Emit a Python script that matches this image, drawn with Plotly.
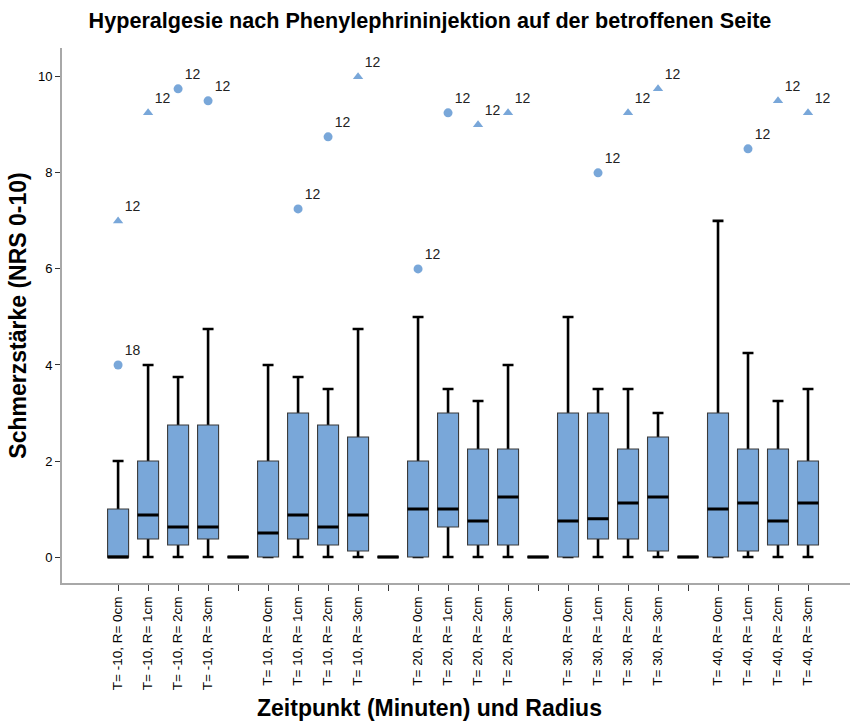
import plotly.graph_objects as go

# ---- data ----
categories = [
    "T= -10, R= 0cm", "T= -10, R= 1cm", "T= -10, R= 2cm", "T= -10, R= 3cm", "",
    "T= 10, R= 0cm", "T= 10, R= 1cm", "T= 10, R= 2cm", "T= 10, R= 3cm", " ",
    "T= 20, R= 0cm", "T= 20, R= 1cm", "T= 20, R= 2cm", "T= 20, R= 3cm", "  ",
    "T= 30, R= 0cm", "T= 30, R= 1cm", "T= 30, R= 2cm", "T= 30, R= 3cm", "   ",
    "T= 40, R= 0cm", "T= 40, R= 1cm", "T= 40, R= 2cm", "T= 40, R= 3cm",
]
lower_fence = [0, 0, 0, 0, 0,  0, 0, 0, 0, 0,  0, 0, 0, 0, 0,  0, 0, 0, 0, 0,  0, 0, 0, 0]
q1 = [0, 0.375, 0.25, 0.375, 0,  0, 0.375, 0.25, 0.125, 0,  0, 0.625, 0.25, 0.25, 0,
      0, 0.375, 0.375, 0.125, 0,  0, 0.125, 0.25, 0.25]
median = [0, 0.875, 0.625, 0.625, 0,  0.5, 0.875, 0.625, 0.875, 0,  1.0, 1.0, 0.75, 1.25, 0,
          0.75, 0.8, 1.125, 1.25, 0,  1.0, 1.125, 0.75, 1.125]
q3 = [1.0, 2.0, 2.75, 2.75, 0,  2.0, 3.0, 2.75, 2.5, 0,  2.0, 3.0, 2.25, 2.25, 0,
      3.0, 3.0, 2.25, 2.5, 0,  3.0, 2.25, 2.25, 2.0]
upper_fence = [2.0, 4.0, 3.75, 4.75, 0,  4.0, 3.75, 3.5, 4.75, 0,  5.0, 3.5, 3.25, 4.0, 0,
               5.0, 3.5, 3.5, 3.0, 0,  7.0, 4.25, 3.25, 3.5]

# outliers: category index, value, symbol, case label
out_cat = [0, 0, 1, 2, 3, 6, 7, 8, 10, 11, 12, 13, 16, 17, 18, 21, 22, 23]
out_val = [7.0, 4.0, 9.25, 9.75, 9.5, 7.25, 8.75, 10.0, 6.0, 9.25, 9.0, 9.25, 8.0, 9.25, 9.75, 8.5, 9.5, 9.25]
out_sym = ["triangle-up", "circle", "triangle-up", "circle", "circle", "circle", "circle", "triangle-up",
           "circle", "circle", "triangle-up", "triangle-up", "circle", "triangle-up", "triangle-up",
           "circle", "triangle-up", "triangle-up"]
out_lab = ["12", "18", "12", "12", "12", "12", "12", "12", "12", "12", "12", "12", "12", "12", "12", "12", "12", "12"]

y_ticks = [0, 2, 4, 6, 8, 10]

# ---- figure ----
pos = list(range(len(categories)))
FILL = "#79A7D9"
BW = 0.7
FONT = "Liberation Sans, Arial"

fig = go.Figure()

# whiskers (thick black)
fig.add_trace(go.Box(
    x=pos, q1=median, median=median, q3=median,
    lowerfence=lower_fence, upperfence=upper_fence,
    width=BW, whiskerwidth=0.52,
    line=dict(color="black", width=2.6), fillcolor="rgba(0,0,0,0)",
    boxpoints=False, hoverinfo="skip", showlegend=False,
))
# box bodies (thin gray outline)
fig.add_trace(go.Box(
    x=pos, q1=q1, median=median, q3=q3,
    lowerfence=q1, upperfence=q3,
    width=BW, whiskerwidth=0,
    line=dict(color="#3a3a3a", width=1.1), fillcolor=FILL,
    boxpoints=False, showlegend=False,
))
# medians (thick black)
fig.add_trace(go.Box(
    x=pos, q1=median, median=median, q3=median,
    lowerfence=median, upperfence=median,
    width=BW, whiskerwidth=0,
    line=dict(color="black", width=3), fillcolor="rgba(0,0,0,0)",
    boxpoints=False, hoverinfo="skip", showlegend=False,
))

# outliers
fig.add_trace(go.Scatter(
    x=[pos[i] for i in out_cat], y=out_val, mode="markers+text",
    marker=dict(symbol=out_sym, size=9, color=FILL),
    text=out_lab, textposition="top right",
    textfont=dict(family=FONT, size=14, color="#222"),
    showlegend=False,
))

fig.update_layout(
    width=860, height=722,
    margin=dict(l=62, r=10, t=48, b=139),
    paper_bgcolor="white", plot_bgcolor="white",
    boxmode="overlay",
    font=dict(family=FONT, color="black"),
    title=dict(text="<b>Hyperalgesie nach Phenylephrininjektion auf der betroffenen Seite</b>",
               x=0.5, xanchor="center", y=0.972, yanchor="middle",
               font=dict(size=21.6, color="black")),
    annotations=[dict(
        text="<b>Zeitpunkt (Minuten) und Radius</b>",
        xref="paper", yref="paper", x=0.467, y=-0.2336,
        xanchor="center", yanchor="middle", showarrow=False,
        font=dict(family=FONT, size=23, color="black"),
    )],
)
fig.update_xaxes(
    range=[-1.87, 24.4],
    tickmode="array", tickvals=pos, ticktext=categories, tickangle=-90,
    tickfont=dict(size=13.5, color="black"),
    ticks="outside", ticklen=6, tickcolor="#333", tickwidth=1,
    showline=True, linecolor="#a8a8a8", linewidth=2,
    showgrid=False, zeroline=False,
)
fig.update_yaxes(
    range=[-0.54, 10.6],
    tickmode="array", tickvals=y_ticks, ticktext=[str(v) for v in y_ticks],
    tickfont=dict(size=13, color="black"),
    ticks="outside", ticklen=5, tickcolor="#333", tickwidth=1,
    showline=True, linecolor="#a8a8a8", linewidth=2,
    showgrid=False, zeroline=False,
    title=dict(text="<b>Schmerzstärke (NRS 0-10)</b>", font=dict(size=23), standoff=5),
)

fig.write_html("out.html")
